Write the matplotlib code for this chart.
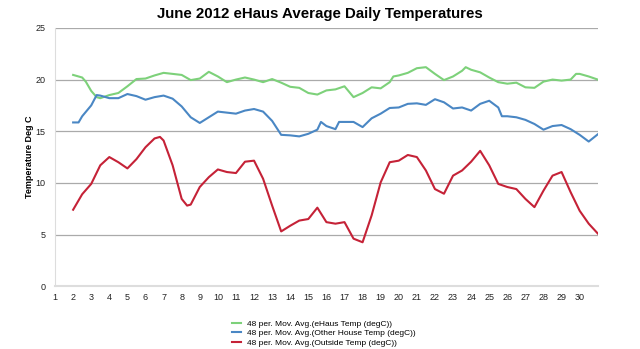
import numpy as np
import matplotlib.pyplot as plt

plt.rcParams['font.family'] = ['Liberation Sans', 'DejaVu Sans']

# day of June (fractional) and 48-period moving averages
ehaus_day = [2.0, 2.5, 2.7, 3.0, 3.3, 3.5, 4.0, 4.5, 5.0, 5.5, 6.0, 6.5, 7.0, 7.5, 8.0, 8.5,
             9.0, 9.5, 10.0, 10.5, 11.0, 11.5, 12.0, 12.5, 13.0, 13.5, 14.0, 14.5, 15.0,
             15.5, 16.0, 16.5, 17.0, 17.5, 18.0, 18.5, 19.0, 19.5, 19.7, 20.0, 20.5, 21.0,
             21.5, 22.0, 22.5, 23.0, 23.5, 23.7, 24.0, 24.5, 25.0, 25.5, 26.0, 26.5, 27.0,
             27.5, 28.0, 28.5, 29.0, 29.5, 29.8, 30.0, 30.5, 31.0]
ehaus_temp = [20.45, 20.2, 19.8, 18.9, 18.3, 18.2, 18.5, 18.7, 19.35, 20.05, 20.1, 20.4, 20.65,
              20.55, 20.45, 19.95, 20.1, 20.75, 20.3, 19.75, 20.0, 20.2, 20.0, 19.75, 20.05,
              19.7, 19.3, 19.2, 18.7, 18.55, 18.95, 19.05, 19.35, 18.3, 18.7, 19.25, 19.15,
              19.75, 20.3, 20.4, 20.65, 21.1, 21.2, 20.55, 19.95, 20.3, 20.85, 21.2, 20.95,
              20.7, 20.2, 19.75, 19.6, 19.7, 19.25, 19.2, 19.8, 20.0, 19.9, 20.0, 20.55,
              20.55, 20.3, 20.0]

other_day = [2.0, 2.3, 2.5, 3.0, 3.3, 3.5, 4.0, 4.5, 5.0, 5.5, 6.0, 6.5, 7.0, 7.5, 8.0,
             8.5, 9.0, 9.5, 10.0, 10.5, 11.0, 11.5, 12.0, 12.5, 13.0, 13.5, 14.0, 14.5,
             15.0, 15.5, 15.7, 16.0, 16.5, 16.7, 17.0, 17.5, 18.0, 18.5, 19.0, 19.5, 20.0,
             20.5, 21.0, 21.5, 22.0, 22.5, 23.0, 23.5, 24.0, 24.5, 25.0, 25.5, 25.7, 26.0,
             26.5, 27.0, 27.5, 28.0, 28.5, 29.0, 29.5, 30.0, 30.5, 31.0]
other_temp = [15.85, 15.85, 16.45, 17.5, 18.5, 18.45, 18.2, 18.2, 18.6, 18.4, 18.05, 18.3,
              18.45, 18.15, 17.4, 16.35, 15.8, 16.35, 16.9, 16.8, 16.7, 17.0, 17.15, 16.9,
              16.0, 14.65, 14.6, 14.5, 14.75, 15.15, 15.9, 15.5, 15.2, 15.9, 15.9, 15.9,
              15.4, 16.25, 16.7, 17.25, 17.3, 17.65, 17.7, 17.55, 18.1, 17.8, 17.2, 17.3,
              17.0, 17.65, 17.95, 17.3, 16.45, 16.45, 16.35, 16.1, 15.7, 15.15, 15.5, 15.6,
              15.2, 14.65, 14.0, 14.7]

outside_day = [2.0, 2.5, 3.0, 3.5, 4.0, 4.5, 5.0, 5.5, 6.0, 6.5, 6.8, 7.0, 7.5, 8.0, 8.3,
               8.5, 9.0, 9.5, 10.0, 10.5, 11.0, 11.5, 12.0, 12.5, 13.0, 13.5, 14.0, 14.5,
               15.0, 15.5, 16.0, 16.5, 17.0, 17.5, 18.0, 18.5, 19.0, 19.5, 20.0, 20.5,
               21.0, 21.5, 22.0, 22.5, 23.0, 23.5, 24.0, 24.5, 25.0, 25.5, 26.0, 26.5,
               27.0, 27.5, 28.0, 28.5, 29.0, 29.5, 30.0, 30.5, 31.0]
outside_temp = [7.4, 8.9, 9.9, 11.7, 12.5, 12.0, 11.4, 12.3, 13.45, 14.3, 14.45, 14.1, 11.7,
                8.45, 7.8, 7.9, 9.6, 10.55, 11.3, 11.05, 10.95, 12.05, 12.15, 10.4, 7.8, 5.3,
                5.85, 6.35, 6.5, 7.6, 6.2, 6.05, 6.2, 4.6, 4.25, 6.85, 10.05, 12.0, 12.15,
                12.7, 12.5, 11.2, 9.4, 8.95, 10.7, 11.2, 12.05, 13.1, 11.7, 9.9, 9.6, 9.4,
                8.45, 7.65, 9.25, 10.7, 11.05, 9.1, 7.3, 6.05, 5.1]

day_ticks = list(range(1, 31))

fig = plt.figure(figsize=(6.4, 3.49), dpi=100)
ax = fig.add_axes([0.086, 0.18, 0.848, 0.74])

ax.plot(ehaus_day, ehaus_temp, color='#7dd17a', lw=1.5,
        label='48 per. Mov. Avg.(eHaus Temp (degC))')
ax.plot(other_day, other_temp, color='#4a87c4', lw=1.5,
        label='48 per. Mov. Avg.(Other House Temp (degC))')
ax.plot(outside_day, outside_temp, color='#c52237', lw=1.5,
        label='48 per. Mov. Avg.(Outside Temp (degC))')

ax.set_xlim(1, 31)
ax.set_ylim(0, 25)
ax.set_xticks(day_ticks)
ax.set_yticks([0, 5, 10, 15, 20, 25])
ax.tick_params(axis='both', length=0, labelsize=6.5, colors='#222222')
ax.tick_params(axis='x', pad=5)
ax.tick_params(axis='y', pad=7)
ax.grid(axis='y', color='#aaaaaa', lw=0.9)
ax.set_axisbelow(True)
for s in ['top', 'right']:
    ax.spines[s].set_visible(False)
ax.spines['left'].set_color('#dddddd')
ax.spines['bottom'].set_color('#dddddd')
ax.spines['bottom'].set_linewidth(1.5)

ax.set_ylabel('Temperature Deg C', fontsize=6.5, fontweight='bold', labelpad=1)
fig.suptitle('June 2012 eHaus Average Daily Temperatures', fontsize=10.8,
             fontweight='bold', y=0.98)

fig.legend(loc='lower center', bbox_to_anchor=(0.506, -0.015), ncol=1, frameon=False,
           fontsize=6.0, handlelength=1.1, handletextpad=0.7, labelspacing=0.2)

fig.savefig('out.png', dpi=100)
